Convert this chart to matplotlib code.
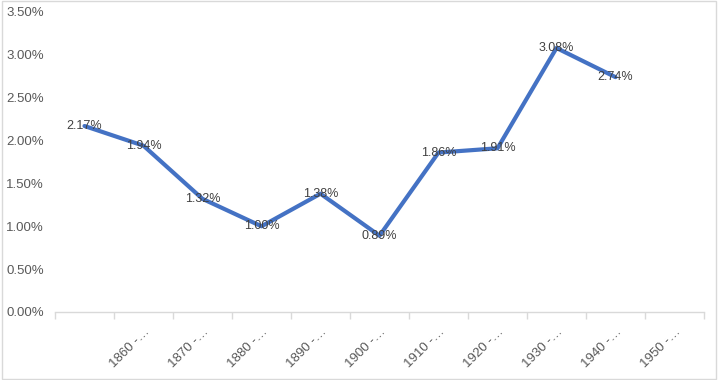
import matplotlib
matplotlib.use('Agg')
import matplotlib.pyplot as plt
from matplotlib.patches import Rectangle
from matplotlib.ticker import FuncFormatter, FixedLocator

# categories (first label is not shown in the original chart)
categories = ['', '1860 -…', '1870 -…', '1880 -…', '1890 -…', '1900 -…',
              '1910 -…', '1920 -…', '1930 -…', '1940 -…', '1950 -…']
rates = [2.17, 1.94, 1.32, 1.00, 1.38, 0.89, 1.86, 1.91, 3.08, 2.74]

plt.rcParams['font.family'] = ['Liberation Sans', 'DejaVu Sans']

fig = plt.figure(figsize=(7.18, 3.8), dpi=100)
ax = fig.add_axes([55 / 718, 1 - 312 / 380, (704 - 55) / 718, 300 / 380])

x = list(range(len(rates)))
ax.plot(x, rates, color='#4472C4', linewidth=3, solid_capstyle='round',
        solid_joinstyle='round', zorder=2)

for xi, v in zip(x, rates):
    ax.text(xi, v, '%.2f%%' % v, ha='center', va='center', fontsize=9,
            color='#404040', zorder=3)

ax.set_xlim(-0.5, len(categories) - 0.5)
ax.set_ylim(0, 3.5)
ax.set_yticks([i * 0.5 for i in range(8)])
ax.yaxis.set_major_formatter(FuncFormatter(lambda v, p: '%.2f%%' % v))

ax.set_xticks(range(len(categories)))
ax.set_xticklabels(categories, rotation=45, ha='right', rotation_mode='anchor')
ax.xaxis.set_minor_locator(FixedLocator([i - 0.5 for i in range(len(categories) + 1)]))
ax.tick_params(axis='x', which='major', length=0, pad=10, labelsize=9.5, labelcolor='#595959')
ax.tick_params(axis='x', which='minor', length=5, width=1, color='#D9D9D9')
ax.tick_params(axis='y', length=0, labelsize=9.5, labelcolor='#595959', pad=8)

for s in ['top', 'right', 'left']:
    ax.spines[s].set_visible(False)
ax.spines['bottom'].set_color('#D9D9D9')
ax.spines['bottom'].set_linewidth(1)

fig.patches.append(Rectangle((0.003, 0.003), 0.994, 0.994, transform=fig.transFigure,
                             fill=False, edgecolor='#D9D9D9', linewidth=1))

fig.savefig('out.png', dpi=100)
